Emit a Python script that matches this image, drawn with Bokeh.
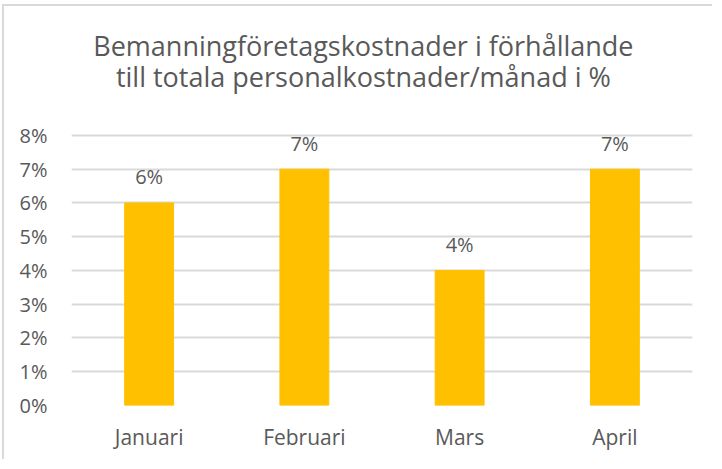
from bokeh.plotting import figure
from bokeh.models import Range1d, FactorRange, FixedTicker, ColumnDataSource, Label
from bokeh.core.properties import value
from bokeh.embed import file_html
from bokeh.resources import INLINE

months = ["Januari", "Februari", "Mars", "April"]
percent = [6, 7, 4, 7]
y_ticks = [0, 1, 2, 3, 4, 5, 6, 7, 8]
y_tick_labels = ["0%", "1%", "2%", "3%", "4%", "5%", "6%", "7%", "8%"]
title_lines = ["Bemanningföretagskostnader i förhållande",
               "till totala personalkostnader/månad i %"]

FONT = "Open Sans"
TXT = "#595959"

src = ColumnDataSource(dict(m=months, v=percent, lab=[f"{v}%" for v in percent]))

# the frame reaches to the top of the canvas so the title can sit inside it;
# ticks and grid lines stop at 8 %
p = figure(width=710, height=455, x_range=FactorRange(*months), y_range=Range1d(0, 11.82),
           output_backend="svg", toolbar_location=None, title=None,
           min_border_left=67, min_border_right=22, min_border_top=0, min_border_bottom=56)
p.outline_line_color = None
p.background_fill_color = "white"
p.border_fill_color = "white"
p.styles = {"margin-left": "2px", "margin-top": "4px",
            "border-left": "2px solid #d9d9d9", "border-top": "2px solid #d9d9d9"}

for line, base in zip(title_lines, (10.65, 9.76)):
    p.add_layout(Label(text=line, x=1.88, y=base,
                       text_align="center", text_baseline="alphabetic",
                       text_font=FONT, text_font_size="27px", text_color=TXT))

p.vbar(x="m", top="v", width=0.315, source=src, color="#FFC000")
p.text(x="m", y="v", text="lab", source=src, text_align="center", text_baseline="middle",
       y_offset=-26, text_font=value(FONT), text_font_size="20px", text_color=TXT)

p.yaxis.ticker = FixedTicker(ticks=y_ticks)
p.yaxis.major_label_overrides = {t: l for t, l in zip(y_ticks, y_tick_labels)}
for ax in (p.xaxis, p.yaxis):
    ax.axis_line_color = None
    ax.major_tick_line_color = None
    ax.minor_tick_line_color = None
    ax.major_label_text_font = FONT
    ax.major_label_text_color = TXT
p.yaxis.major_label_text_font_size = "20px"
p.xaxis.major_label_text_font_size = "21px"
p.yaxis.major_label_standoff = 18
p.xaxis.major_label_standoff = 11
p.ygrid.grid_line_color = "#d9d9d9"
p.ygrid.grid_line_width = 2
p.xgrid.grid_line_color = None

open("out.html", "w").write(file_html(p, INLINE))
